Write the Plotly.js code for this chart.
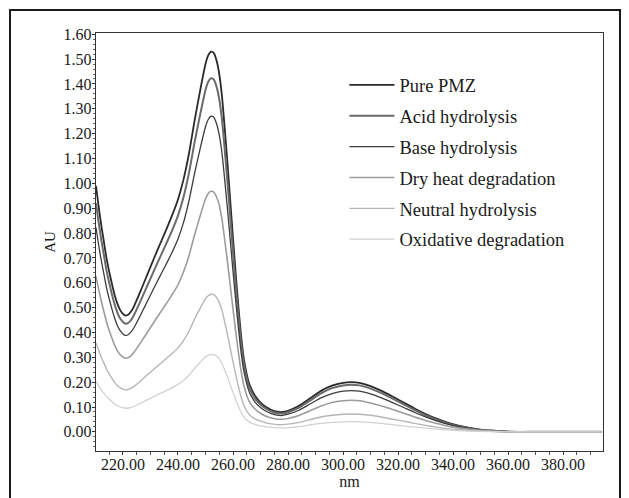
<!DOCTYPE html>
<html>
<head>
<meta charset="utf-8">
<script src="https://cdn.plot.ly/plotly-3.0.1.min.js"></script>
<style>html,body{margin:0;padding:0;background:#fff;}</style>
</head>
<body>
<div id="chart" style="width:629px;height:498px;"></div>
<script>
const wavelength = [210.2,211,212,213,214,215,216,217,218,219,220,221,222,223,224,226,228,230,232,234,236,238,240,242,244,246,248,250,251,252,253,254,255,256,257,258,259,260,261,262,263,264,266,268,270,272,274,276,278,280,284,288,292,296,300,303,306,310,314,318,322,326,330,334,338,342,346,350,354,358,362,370,380,394];

const purePMZ = [0.99,0.92,0.84,0.77,0.70,0.645,0.595,0.55,0.515,0.49,0.475,0.468,0.472,0.485,0.505,0.556,0.61,0.664,0.717,0.769,0.821,0.875,0.935,1.015,1.12,1.25,1.37,1.48,1.515,1.53,1.525,1.495,1.44,1.35,1.22,1.08,0.93,0.78,0.635,0.5,0.38,0.29,0.19,0.145,0.118,0.1,0.088,0.081,0.08,0.085,0.105,0.135,0.165,0.186,0.197,0.2,0.197,0.184,0.165,0.142,0.118,0.094,0.072,0.053,0.037,0.025,0.016,0.009,0.005,0.002,0,0,0,0];

const acidHydrolysis = [0.92,0.856,0.781,0.716,0.651,0.600,0.553,0.512,0.479,0.456,0.442,0.435,0.439,0.451,0.470,0.517,0.567,0.617,0.667,0.715,0.764,0.814,0.870,0.944,1.042,1.163,1.274,1.376,1.409,1.423,1.418,1.390,1.339,1.256,1.135,1.004,0.865,0.725,0.591,0.465,0.353,0.270,0.177,0.135,0.110,0.093,0.082,0.075,0.074,0.079,0.098,0.126,0.155,0.176,0.187,0.19,0.187,0.174,0.156,0.134,0.111,0.088,0.067,0.049,0.034,0.023,0.015,0.008,0.005,0.002,0,0,0,0];

const baseHydrolysis = [0.822,0.764,0.697,0.639,0.581,0.535,0.494,0.457,0.427,0.407,0.394,0.388,0.392,0.403,0.419,0.461,0.506,0.551,0.595,0.638,0.681,0.726,0.776,0.842,0.930,1.038,1.137,1.228,1.257,1.270,1.266,1.241,1.195,1.121,1.013,0.896,0.772,0.647,0.527,0.415,0.315,0.241,0.158,0.120,0.098,0.083,0.073,0.067,0.066,0.071,0.087,0.112,0.137,0.154,0.164,0.166,0.164,0.153,0.137,0.118,0.098,0.078,0.060,0.044,0.031,0.021,0.013,0.007,0.004,0.002,0,0,0,0];

const dryHeat = [0.627,0.582,0.532,0.487,0.443,0.408,0.377,0.348,0.326,0.310,0.301,0.296,0.299,0.307,0.320,0.352,0.386,0.420,0.454,0.487,0.520,0.554,0.592,0.643,0.709,0.791,0.867,0.937,0.959,0.968,0.965,0.946,0.912,0.855,0.772,0.684,0.589,0.494,0.402,0.317,0.241,0.184,0.120,0.092,0.075,0.063,0.056,0.051,0.051,0.054,0.066,0.085,0.104,0.118,0.125,0.127,0.125,0.116,0.104,0.090,0.075,0.060,0.046,0.034,0.023,0.016,0.010,0.006,0.003,0.001,0,0,0,0];

const neutralHydrolysis = [0.358,0.333,0.304,0.279,0.253,0.233,0.215,0.199,0.186,0.177,0.172,0.169,0.171,0.176,0.183,0.201,0.221,0.240,0.260,0.278,0.297,0.317,0.338,0.367,0.405,0.453,0.496,0.536,0.548,0.554,0.552,0.541,0.521,0.489,0.442,0.391,0.337,0.282,0.230,0.181,0.138,0.105,0.069,0.052,0.043,0.036,0.032,0.029,0.029,0.031,0.038,0.049,0.060,0.067,0.071,0.072,0.071,0.067,0.060,0.051,0.043,0.034,0.026,0.019,0.013,0.009,0.006,0.003,0.002,0.001,0,0,0,0];

const oxidative = [0.202,0.188,0.171,0.157,0.143,0.132,0.121,0.112,0.105,0.100,0.097,0.095,0.096,0.099,0.103,0.113,0.124,0.135,0.146,0.157,0.167,0.179,0.191,0.207,0.228,0.255,0.279,0.302,0.309,0.312,0.311,0.305,0.294,0.275,0.249,0.220,0.190,0.159,0.130,0.102,0.078,0.059,0.039,0.030,0.024,0.020,0.018,0.017,0.016,0.017,0.021,0.028,0.034,0.038,0.040,0.041,0.040,0.038,0.034,0.029,0.024,0.019,0.015,0.011,0.008,0.005,0.003,0.002,0.001,0,0,0,0,0];

const seriesNames = ["Pure PMZ","Acid hydrolysis","Base hydrolysis","Dry heat degradation","Neutral hydrolysis","Oxidative degradation"];
const seriesValues = [purePMZ, acidHydrolysis, baseHydrolysis, dryHeat, neutralHydrolysis, oxidative];
const seriesColors = ["#2a2a2a","#6a6a6a","#3c3c3c","#9c9c9c","#b6b6b6","#d2d2d2"];
const seriesWidths = [1.8,2.0,1.3,1.6,1.4,1.3];

const yTicks = [0,0.1,0.2,0.3,0.4,0.5,0.6,0.7,0.8,0.9,1.0,1.1,1.2,1.3,1.4,1.5,1.6];
const xTicks = [220,240,260,280,300,320,340,360,380];

const font = "Liberation Serif";

const traces = seriesNames.map((n,i)=>({
  type:"scatter", mode:"lines", name:n,
  x: wavelength, y: seriesValues[i],
  legendgroup: "g"+i,
  line:{color:seriesColors[i], width:seriesWidths[i], shape:"spline", smoothing:0.6}
}));

const layout = {
  width:629, height:498,
  paper_bgcolor:"#fff", plot_bgcolor:"#fff",
  margin:{l:96, r:26, t:33, b:47},
  font:{family:font, color:"#1a1a1a"},
  showlegend:true,
  legend:{x:0.49, y:0.92, xanchor:"left", yanchor:"top", bgcolor:"rgba(0,0,0,0)",
          font:{family:font, size:18.5, color:"#1a1a1a"}, tracegroupgap:3.8, traceorder:"grouped", itemwidth:45},
  xaxis:{range:[210.2,394.5], tickvals:xTicks, tickformat:".2f", ticks:"outside", ticklen:3, tickwidth:1,
         tickcolor:"#333", showline:true, linecolor:"#333", linewidth:1.2, mirror:true, showgrid:false, zeroline:false,
         tickfont:{family:font, size:16, color:"#1a1a1a"}, ticklabelstandoff:-4,
         minor:{dtick:5, ticks:"outside", ticklen:2.5, tickcolor:"#555", showgrid:false},
         title:{text:"nm", font:{family:font, size:16, color:"#1a1a1a"}, standoff:0}},
  yaxis:{range:[-0.077,1.605], tickvals:yTicks, tickformat:".2f", ticks:"outside", ticklen:3, tickwidth:1,
         tickcolor:"#333", showline:true, linecolor:"#333", linewidth:1.2, mirror:true, showgrid:false, zeroline:false,
         tickfont:{family:font, size:16, color:"#1a1a1a"}, ticklabelstandoff:-3,
         minor:{dtick:0.02, ticks:"outside", ticklen:2, tickcolor:"#666", showgrid:false},
         title:{text:"AU", font:{family:font, size:15, color:"#1a1a1a"}, standoff:4}},
  shapes:[{type:"rect", xref:"paper", yref:"paper", x0:-0.1696, x1:1.0335, y0:-0.14, y1:1.055,
           line:{color:"#1a1a1a", width:2}, fillcolor:"rgba(0,0,0,0)", layer:"below"}]
};

Plotly.newPlot("chart", traces, layout, {displayModeBar:false, staticPlot:true});
</script>
</body>
</html>
